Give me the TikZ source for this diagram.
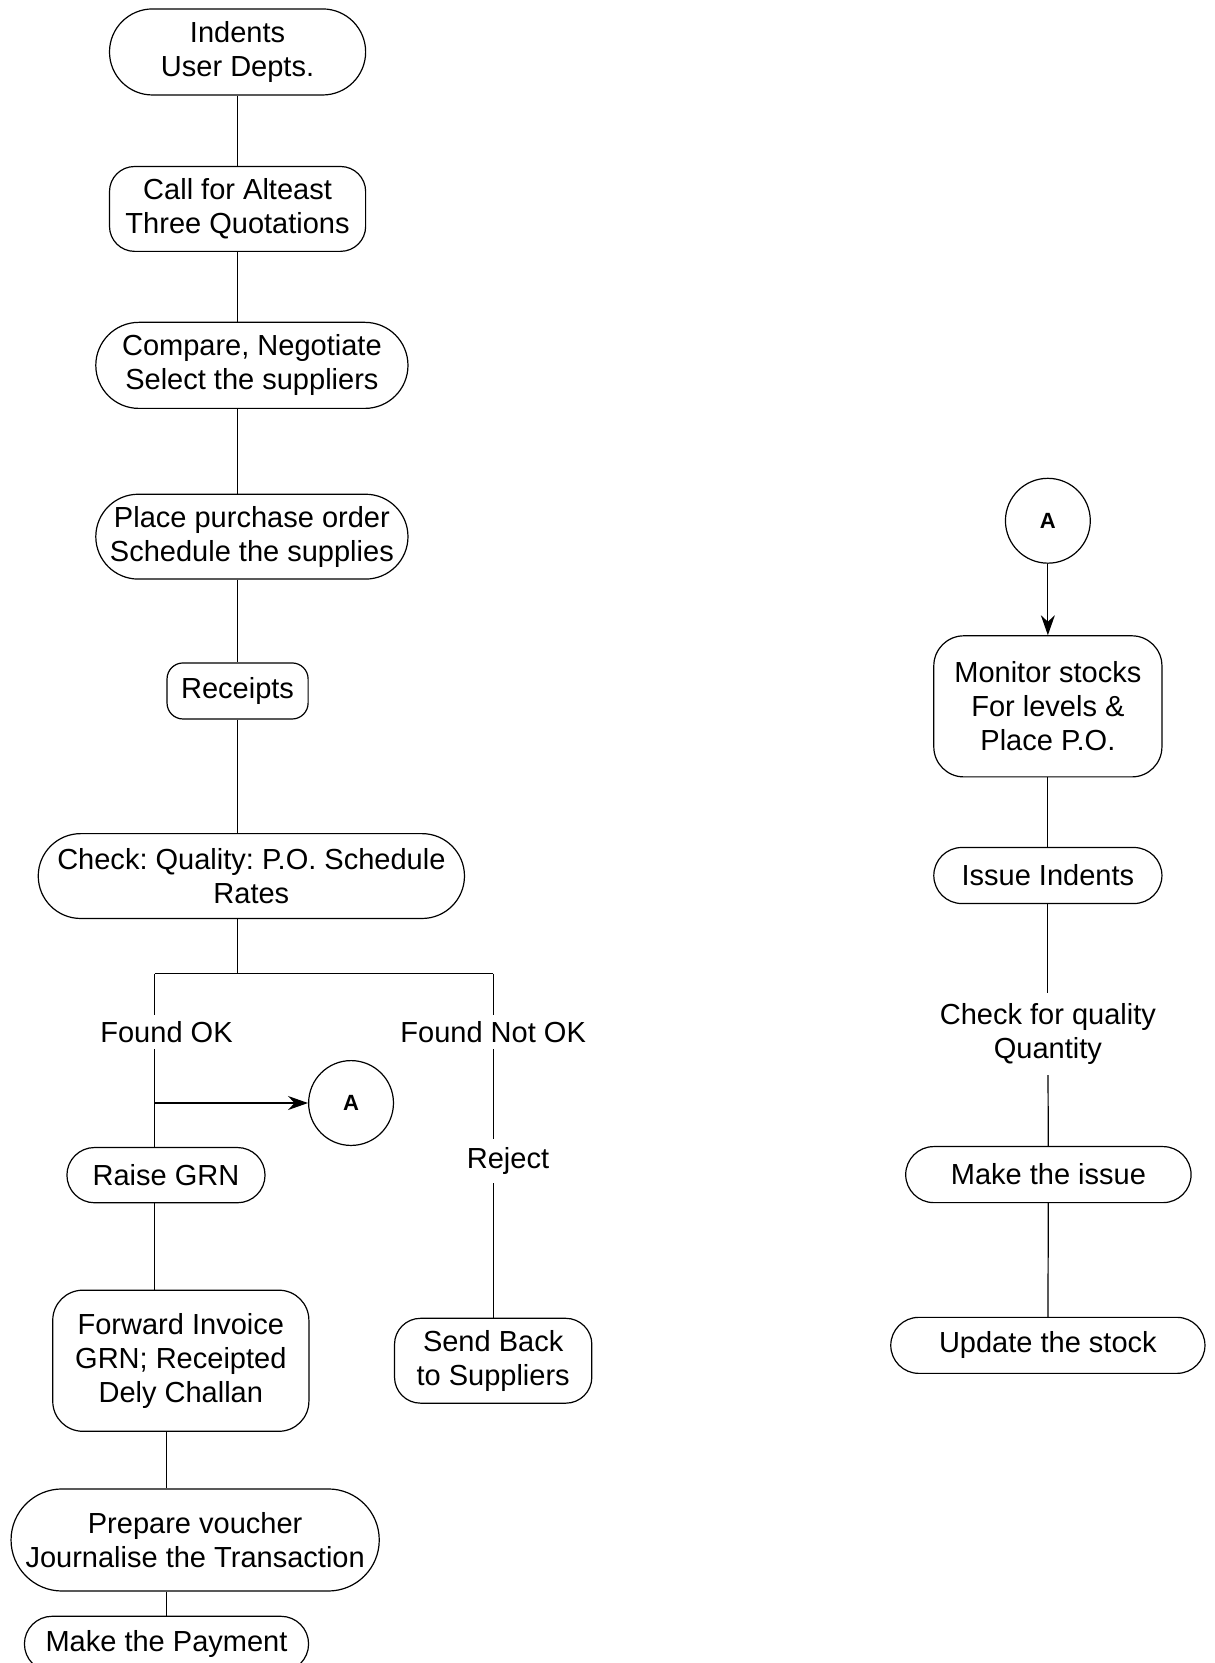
\documentclass[tikz,border=0pt]{standalone}
\usepackage{fontspec}
\setmainfont{Liberation Sans}
\usetikzlibrary{arrows.meta}
\frenchspacing

\begin{document}
\begin{tikzpicture}[x=0.53pt,y=-0.53pt,line width=0.6pt,
    every node/.style={font=\fontsize{14.5}{17}\selectfont,align=center,inner sep=0pt},
    pill/.style={draw,rounded corners=#1,minimum height=2*#1},
    rbox/.style={draw,rounded corners=#1},
    conn/.style={draw,circle,minimum size=42.4pt,font=\bfseries\fontsize{11}{13}\selectfont},
    lbl/.style={inner sep=3pt},
    >={Stealth[length=10pt,width=7pt]}]
    \useasboundingbox (0,0) rectangle (1145,1568);
    % purchase side
    \node[pill=21.5pt,minimum width=128pt] (ind) at (224,49) {Indents\\User Depts.};
    \node[rbox=12.5pt,minimum width=128pt,minimum height=42.4pt] (call) at (224,197) {Call for Alteast\\Three Quotations};
    \node[pill=21.5pt,minimum width=156pt] (cmp) at (237.5,344.5) {Compare, Negotiate\\Select the suppliers};
    \node[pill=21.2pt,minimum width=156pt] (plc) at (237.5,506) {Place purchase order\\Schedule the supplies};
    \node[rbox=8pt,minimum width=70.5pt,minimum height=28pt] (rcp) at (224,651.5) {Receipts};
    \node[pill=21.2pt,minimum width=213pt] (chk) at (237,826) {Check: Quality: P.O. Schedule\\Rates};
    \coordinate (br) at (224,918);
    \coordinate (brL) at (146,918);
    \coordinate (brR) at (465,918);
    \node[lbl] (ok) at (157,973) {Found OK};
    \node[lbl] (nok) at (465,973) {Found Not OK};
    \node[conn] (cA) at (331,1040) {A};
    \node[pill=13.8pt,minimum width=99pt] (grn) at (156.5,1108) {Raise GRN};
    \node[rbox=15pt,minimum width=128pt,minimum height=70.5pt] (fwd) at (170.5,1283) {Forward Invoice\\GRN; Receipted\\Dely Challan};
    \node[pill=25.5pt,minimum width=184pt] (prep) at (184,1452) {Prepare voucher\\Journalise the Transaction};
    \node[pill=13.8pt,minimum width=142pt] (pay) at (157,1550) {Make the Payment};
    \node[lbl,inner sep=4pt] (rej) at (479,1095) {Reject};
    \node[rbox=13pt,minimum width=98.6pt,minimum height=42.4pt] (snd) at (465,1283) {Send Back\\to Suppliers};
    % stores side
    \node[conn] (cB) at (988,491) {A};
    \node[rbox=15pt,minimum width=114pt,minimum height=70.5pt] (mon) at (988,666) {Monitor stocks\\For levels \&\\Place P.O.};
    \node[pill=14pt,minimum width=114pt] (iss) at (988,825.5) {Issue Indents};
    \node[lbl,inner sep=5pt] (cq) at (988,975) {Check for quality\\Quantity};
    \node[pill=14pt,minimum width=142.6pt] (mki) at (988.5,1107.5) {Make the issue};
    \node[pill=14pt,minimum width=157pt] (upd) at (988,1268.5) {Update the stock};

    \draw (ind) -- (call);
    \draw (call) -- (ind |- cmp.north);
    \draw (ind |- cmp.south) -- (ind |- plc.north);
    \draw (ind |- plc.south) -- (rcp);
    \draw (rcp) -- (ind |- chk.north);
    \draw (ind |- chk.south) -- (br);
    \draw (brL) -- (brR);
    \draw (brL) -- (ok.north -| brL);
    \draw (ok.south -| brL) -- (grn.north -| brL);
    \draw[->] (brL |- cA) -- (cA);
    \draw (grn.south -| brL) -- (fwd.north -| brL);
    \draw (pay |- fwd.south) -- (pay |- prep.north);
    \draw (pay |- prep.south) -- (pay);
    \draw (brR) -- (nok);
    \draw (nok) -- (rej.north -| nok);
    \draw (rej.south -| nok) -- (snd);
    \draw[->] (cB) -- (mon);
    \draw (mon) -- (iss);
    \draw (iss) -- (cq);
    \draw (cq) -- (mki);
    \draw (mki) -- (upd);
\end{tikzpicture}
\end{document}
